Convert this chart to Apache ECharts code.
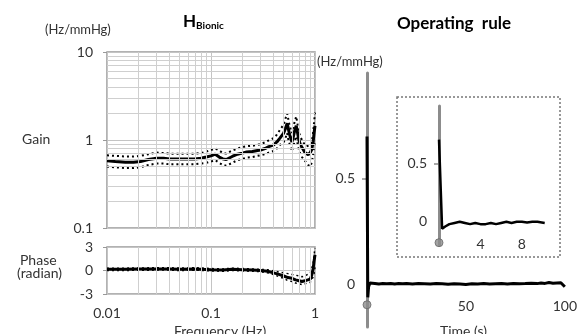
<!DOCTYPE html>
<html>
<head>
<meta charset="utf-8">
<script src="https://cdn.jsdelivr.net/npm/echarts@6/dist/echarts.min.js"></script>
<style>
  html, body { margin: 0; padding: 0; background: #fff; }
  #chart { width: 580px; height: 334px; }
</style>
</head>
<body>
<div id="chart"></div>
<script>
// gain (Hz/mmHg) vs frequency (Hz)
const gainFreq = [0.01, 0.012, 0.015, 0.018, 0.021, 0.025, 0.03, 0.035, 0.04, 0.05, 0.06, 0.07, 0.08, 0.09, 0.1, 0.11, 0.12, 0.13, 0.14, 0.16, 0.18, 0.2, 0.22, 0.25, 0.28, 0.3, 0.33, 0.36, 0.4, 0.43, 0.46, 0.5, 0.52, 0.54, 0.55, 0.57, 0.6, 0.62, 0.64, 0.66, 0.68, 0.7, 0.72, 0.75, 0.78, 0.8, 0.83, 0.86, 0.9, 0.93, 0.96, 0.98, 1.0];
const gainMean = [0.58, 0.57, 0.56, 0.56, 0.57, 0.6, 0.62, 0.62, 0.61, 0.61, 0.61, 0.61, 0.62, 0.64, 0.66, 0.69, 0.64, 0.61, 0.6, 0.65, 0.69, 0.71, 0.73, 0.74, 0.76, 0.77, 0.8, 0.84, 0.88, 0.95, 1.05, 1.2, 1.35, 1.55, 1.4, 1.15, 0.95, 1.1, 1.3, 1.45, 1.2, 1.0, 0.9, 0.82, 0.76, 0.72, 0.7, 0.68, 0.72, 0.78, 0.95, 1.2, 1.45];
const gainUpper = [0.67, 0.66, 0.65, 0.65, 0.66, 0.69, 0.72, 0.71, 0.7, 0.7, 0.7, 0.7, 0.71, 0.74, 0.77, 0.8, 0.76, 0.71, 0.7, 0.76, 0.8, 0.83, 0.85, 0.86, 0.88, 0.9, 0.94, 0.99, 1.05, 1.15, 1.3, 1.5, 1.75, 2.0, 1.8, 1.45, 1.2, 1.4, 1.65, 1.85, 1.5, 1.25, 1.1, 1.0, 0.92, 0.88, 0.85, 0.84, 0.88, 0.95, 1.2, 1.6, 2.05];
const gainLower = [0.5, 0.49, 0.48, 0.48, 0.49, 0.52, 0.54, 0.54, 0.53, 0.53, 0.53, 0.53, 0.54, 0.55, 0.57, 0.59, 0.55, 0.52, 0.51, 0.55, 0.59, 0.61, 0.63, 0.64, 0.66, 0.67, 0.69, 0.72, 0.75, 0.8, 0.88, 0.95, 1.05, 1.2, 1.05, 0.9, 0.75, 0.85, 1.0, 1.1, 0.9, 0.78, 0.7, 0.64, 0.6, 0.57, 0.55, 0.52, 0.5, 0.55, 0.68, 0.85, 1.0];

// phase (radian) vs frequency (Hz)
const phaseFreq = [0.01, 0.015, 0.02, 0.03, 0.04, 0.05, 0.07, 0.1, 0.13, 0.16, 0.2, 0.25, 0.3, 0.35, 0.4, 0.45, 0.5, 0.55, 0.6, 0.65, 0.7, 0.75, 0.8, 0.85, 0.9, 0.93, 0.96, 0.98, 1.0];
const phaseMean = [0.15, 0.15, 0.18, 0.2, 0.2, 0.15, 0.2, 0.1, 0.05, 0.15, 0.1, 0.05, 0.0, -0.1, -0.3, -0.5, -0.7, -0.9, -1.0, -1.2, -1.3, -1.4, -1.3, -1.2, -1.1, -0.6, 0.2, 1.2, 2.0];
const phaseUpper = [0.3, 0.3, 0.32, 0.35, 0.35, 0.3, 0.35, 0.25, 0.2, 0.3, 0.25, 0.2, 0.15, 0.1, -0.05, -0.2, -0.3, -0.4, -0.5, -0.6, -0.7, -0.8, -0.7, -0.5, -0.3, 0.2, 1.0, 2.0, 2.9];
const phaseLower = [0.0, 0.0, 0.04, 0.05, 0.05, 0.0, 0.05, -0.05, -0.1, 0.0, -0.05, -0.1, -0.15, -0.3, -0.5, -0.8, -1.0, -1.3, -1.4, -1.6, -1.7, -1.8, -1.7, -1.6, -1.5, -1.2, -0.8, -0.4, 0.4];

// minor log grid lines
const gridFreqs = [0.02, 0.03, 0.04, 0.05, 0.06, 0.07, 0.08, 0.09, 0.2, 0.3, 0.4, 0.5, 0.6, 0.7, 0.8, 0.9];
const gridGains = [0.2, 0.3, 0.4, 0.5, 0.6, 0.7, 0.8, 0.9, 2, 3, 4, 5, 6, 7, 8, 9];

// operating rule (impulse response), full 0-100 s
const ruleTime = [0, 0.4, 0.8, 1.5, 2.5, 4, 6, 8, 10, 12, 14, 16, 18, 20, 23, 26, 29, 32, 35, 38, 41, 44, 47, 50, 53, 56, 59, 62, 65, 68, 71, 74, 77, 80, 83, 86, 88, 90, 92, 94, 95, 96, 97, 98, 99, 100];
const ruleValue = [0.7, -0.06, -0.01, 0.008, 0.004, 0.006, 0.003, 0.005, 0.004, 0.006, 0.003, 0.005, 0.004, 0.005, 0.003, 0.005, 0.004, 0.003, 0.005, 0.004, 0.002, 0.004, 0.003, 0.001, 0.004, 0.003, 0.005, 0.003, 0.004, 0.005, 0.003, 0.006, 0.004, 0.005, 0.007, 0.005, 0.008, 0.006, 0.01, 0.007, 0.012, 0.008, 0.013, 0.009, 0.012, -0.01];
// inset: first 10 s
const insetTime = [0, 0.3, 0.6, 1, 1.5, 2, 2.5, 3, 3.5, 4, 4.5, 5, 5.5, 6, 6.5, 7, 7.5, 8, 8.5, 9, 9.5, 10.2];
const insetValue = [0.71, -0.06, -0.04, -0.02, -0.01, 0.0, -0.01, -0.02, -0.01, -0.02, -0.02, -0.01, -0.02, -0.01, 0.0, -0.01, 0.0, 0.0, -0.005, 0.0, 0.0, -0.01];

const mainXLabels = [50, 100];
const insetXLabels = [4, 8];
const ruleYLabels = [0, 0.5];

const zip = (a, b) => a.map((v, i) => [v, b[i]]);
const font = 'Lato';
const txt = '#333';

const chart = echarts.init(document.getElementById('chart'));

const lineSeries = (xi, data, style) => ({
    type: 'line',
    xAxisIndex: xi,
    yAxisIndex: xi,
    data: data,
    showSymbol: false,
    symbol: 'none',
    z: 3,
    lineStyle: Object.assign({color: '#000', width: 2.5}, style)
});

const markGrid = (xi, marks) => ({
    type: 'line',
    xAxisIndex: xi,
    yAxisIndex: xi,
    data: [],
    z: 1,
    silent: true,
    markLine: {
        silent: true,
        symbol: 'none',
        label: {show: false},
        lineStyle: {color: '#cfcfcf', type: 'solid', width: 1},
        animation: false,
        data: marks
    }
});

chart.setOption({
    animation: false,
    textStyle: {fontFamily: font},
    grid: [
        {left: 107, top: 52, width: 208, height: 176, show: true, borderColor: '#999', borderWidth: 1.5},
        {left: 107, top: 247, width: 208, height: 47, show: true, borderColor: '#999', borderWidth: 1.5},
        {left: 367, top: 73, width: 198, height: 254},
        {left: 439, top: 106, width: 114, height: 139}
    ],
    xAxis: [
        {
            gridIndex: 0, type: 'log', logBase: 10, min: 0.01, max: 1,
            axisLine: {show: false}, axisTick: {show: false}, axisLabel: {show: false},
            splitLine: {show: true, lineStyle: {color: '#c4c4c4'}}
        },
        {
            gridIndex: 1, type: 'log', logBase: 10, min: 0.01, max: 1,
            axisLine: {show: false}, axisTick: {show: false},
            axisLabel: {fontSize: 14, color: txt, margin: 12, fontFamily: font},
            splitLine: {show: true, lineStyle: {color: '#c4c4c4'}}
        },
        {
            gridIndex: 2, type: 'value', min: 0, max: 100, offset: -30,
            axisLine: {show: false}, axisTick: {show: false}, splitLine: {show: false},
            axisLabel: {customValues: mainXLabels, fontSize: 14, color: txt, margin: 2, fontFamily: font}
        },
        {
            gridIndex: 3, type: 'value', min: 0, max: 11, offset: -9,
            axisLine: {show: false}, axisTick: {show: false}, splitLine: {show: false},
            axisLabel: {customValues: insetXLabels, fontSize: 14, color: txt, margin: 1, fontFamily: font}
        }
    ],
    yAxis: [
        {
            gridIndex: 0, type: 'log', logBase: 10, min: 0.1, max: 10,
            axisLine: {show: false},
            axisTick: {show: true, length: 4, lineStyle: {color: '#999'}},
            axisLabel: {fontSize: 14, color: txt, margin: 14, fontFamily: font},
            splitLine: {show: true, lineStyle: {color: '#c4c4c4'}}
        },
        {
            gridIndex: 1, type: 'value', min: -3, max: 3, interval: 3,
            axisLine: {show: false},
            axisTick: {show: true, length: 4, lineStyle: {color: '#999'}},
            axisLabel: {fontSize: 14, color: txt, margin: 14, fontFamily: font},
            splitLine: {show: true, lineStyle: {color: '#c4c4c4'}}
        },
        {
            gridIndex: 2, type: 'value', min: -0.2, max: 1,
            axisLine: {show: true, lineStyle: {color: '#8c8c8c', width: 3}},
            axisTick: {show: true, customValues: [0.5], length: 5, lineStyle: {color: '#8c8c8c', width: 1.5}},
            axisLabel: {customValues: ruleYLabels, fontSize: 14, color: txt, margin: 12, fontFamily: font},
            splitLine: {show: false}
        },
        {
            gridIndex: 3, type: 'value', min: -0.2, max: 1,
            axisLine: {show: true, lineStyle: {color: '#8c8c8c', width: 3}},
            axisTick: {show: true, customValues: [0.5], length: 5, lineStyle: {color: '#8c8c8c', width: 1.5}},
            axisLabel: {customValues: ruleYLabels, fontSize: 14, color: txt, margin: 12, fontFamily: font},
            splitLine: {show: false}
        }
    ],
    series: [
        markGrid(0, gridFreqs.map(f => ({xAxis: f})).concat(gridGains.map(g => ({yAxis: g})))),
        markGrid(1, gridFreqs.map(f => ({xAxis: f}))),
        lineSeries(0, zip(gainFreq, gainUpper), {width: 2, type: [2, 3]}),
        lineSeries(0, zip(gainFreq, gainLower), {width: 2, type: [2, 3]}),
        lineSeries(0, zip(gainFreq, gainMean), {width: 3}),
        lineSeries(1, zip(phaseFreq, phaseUpper), {width: 1.5, type: [2, 3]}),
        lineSeries(1, zip(phaseFreq, phaseLower), {width: 1.5, type: [2, 3]}),
        lineSeries(1, zip(phaseFreq, phaseMean), {width: 3}),
        lineSeries(2, zip(ruleTime, ruleValue), {width: 3}),
        lineSeries(3, zip(insetTime, insetValue), {width: 2.5}),
        {
            type: 'scatter', xAxisIndex: 2, yAxisIndex: 2, z: 4,
            data: [[0, -0.095]], symbolSize: 8,
            itemStyle: {color: '#8c8c8c', borderColor: '#666', borderWidth: 1}
        },
        {
            type: 'scatter', xAxisIndex: 3, yAxisIndex: 3, z: 4,
            data: [[0, -0.18]], symbolSize: 8,
            itemStyle: {color: '#8c8c8c', borderColor: '#666', borderWidth: 1}
        }
    ],
    graphic: [
        {
            type: 'rect', z: 0, silent: true,
            shape: {x: 397, y: 97, width: 163, height: 160},
            style: {fill: 'none', stroke: '#777', lineWidth: 1.5, lineDash: [2, 2]}
        },
        {
            type: 'text', left: 183, top: 13,
            style: {
                text: '{h|H}{s|Bionic}', fill: '#000',
                rich: {
                    h: {fontSize: 17, fontWeight: 'bold', fontFamily: font, fill: '#000'},
                    s: {fontSize: 10, fontWeight: 'bold', fontFamily: font, fill: '#000', padding: [9, 0, 0, 0]}
                }
            }
        },
        {
            type: 'text', left: 397, top: 15,
            style: {text: 'Operating  rule', fontSize: 17, fontWeight: 'bold', fontFamily: font, fill: '#000'}
        },
        {type: 'text', left: 45, top: 23, style: {text: '(Hz/mmHg)', fontSize: 13, fontFamily: font, fill: txt}},
        {type: 'text', left: 317, top: 55, style: {text: '(Hz/mmHg)', fontSize: 13, fontFamily: font, fill: txt}},
        {type: 'text', left: 22, top: 132, style: {text: 'Gain', fontSize: 14, fontFamily: font, fill: txt}},
        {type: 'text', left: 20, top: 253, style: {text: 'Phase', fontSize: 14, fontFamily: font, fill: txt}},
        {type: 'text', left: 17, top: 266, style: {text: '(radian)', fontSize: 14, fontFamily: font, fill: txt}},
        {type: 'text', left: 174, top: 324, style: {text: 'Frequency (Hz)', fontSize: 14, fontFamily: font, fill: txt}},
        {type: 'text', left: 440, top: 324, style: {text: 'Time (s)', fontSize: 14, fontFamily: font, fill: txt}}
    ]
});
</script>
</body>
</html>
